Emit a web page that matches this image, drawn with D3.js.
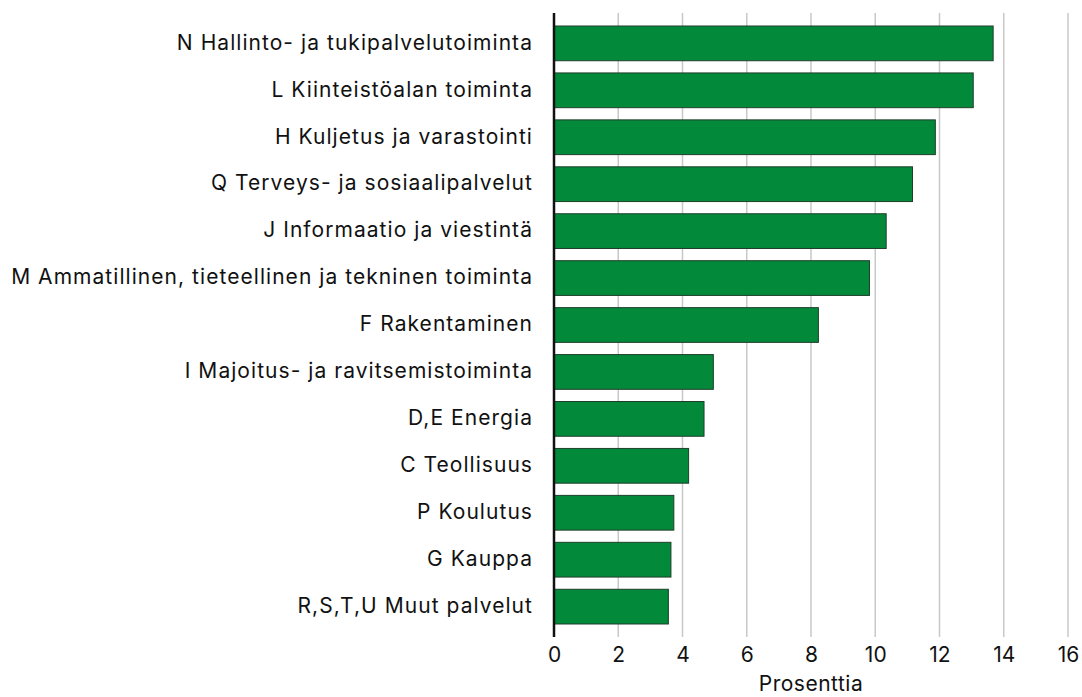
<!DOCTYPE html>
<html>
<head>
<meta charset="utf-8">
<script src="https://cdn.jsdelivr.net/npm/d3@7"></script>
<style>
  body { margin: 0; background: #fff; }
  svg { display: block; font-family: Inter, Roboto, sans-serif; }
</style>
</head>
<body>
<div id="chart"></div>
<script>
const categories = [
  "N Hallinto- ja tukipalvelutoiminta",
  "L Kiinteistöalan toiminta",
  "H Kuljetus ja varastointi",
  "Q Terveys- ja sosiaalipalvelut",
  "J Informaatio ja viestintä",
  "M Ammatillinen, tieteellinen ja tekninen toiminta",
  "F Rakentaminen",
  "I Majoitus- ja ravitsemistoiminta",
  "D,E Energia",
  "C Teollisuus",
  "P Koulutus",
  "G Kauppa",
  "R,S,T,U Muut palvelut"
];
const values = [13.67, 13.05, 11.87, 11.16, 10.34, 9.82, 8.23, 4.96, 4.67, 4.19, 3.73, 3.64, 3.56];
const xTicks = [0, 2, 4, 6, 8, 10, 12, 14, 16];
const xTitle = "Prosenttia";

const width = 1082, height = 697;
const margin = {top: 13, right: 14, bottom: 60, left: 554};
const fontSize = 21;

const svg = d3.select("#chart").append("svg")
  .attr("width", width)
  .attr("height", height);

const x = d3.scaleLinear()
  .domain([0, 16])
  .range([margin.left, width - margin.right]);

const y = d3.scaleBand()
  .domain(categories)
  .range([margin.top, height - margin.bottom])
  .paddingInner(0.26)
  .paddingOuter(0.277);

// gridlines
svg.append("g")
  .selectAll("line")
  .data(xTicks.slice(1))
  .join("line")
  .attr("x1", d => x(d)).attr("x2", d => x(d))
  .attr("y1", margin.top).attr("y2", height - margin.bottom)
  .attr("stroke", "#c8c8c8")
  .attr("stroke-width", 1.5);

// bars
svg.append("g")
  .selectAll("rect")
  .data(values)
  .join("rect")
  .attr("x", x(0))
  .attr("y", (d, i) => y(categories[i]))
  .attr("width", d => x(d) - x(0))
  .attr("height", y.bandwidth())
  .attr("fill", "#02893a")
  .attr("stroke", "#1e3f2a")
  .attr("stroke-width", 1);

// y labels
svg.append("g")
  .selectAll("text")
  .data(categories)
  .join("text")
  .attr("x", margin.left - 21)
  .attr("y", d => y(d) + y.bandwidth() / 2)
  .attr("dy", "0.3em")
  .attr("text-anchor", "end")
  .attr("font-size", fontSize)
  .attr("letter-spacing", "1.05px")
  .attr("fill", "#111")
  .text(d => d);

// x axis
const xAxis = svg.append("g")
  .attr("transform", `translate(0,${height - margin.bottom})`)
  .call(d3.axisBottom(x).tickValues(xTicks).tickSize(0).tickPadding(10));
xAxis.select(".domain").remove();
xAxis.selectAll("text")
  .attr("font-size", fontSize)
  .attr("font-family", "Inter, Roboto, sans-serif")
  .attr("fill", "#111");

// zero line
svg.append("line")
  .attr("x1", x(0)).attr("x2", x(0))
  .attr("y1", margin.top).attr("y2", height - margin.bottom)
  .attr("stroke", "#111")
  .attr("stroke-width", 2.5);

svg.append("text")
  .attr("x", (x(0) + x(16)) / 2)
  .attr("y", 691)
  .attr("text-anchor", "middle")
  .attr("font-size", fontSize)
  .attr("letter-spacing", "0.5px")
  .attr("fill", "#111")
  .text(xTitle);
</script>
</body>
</html>
